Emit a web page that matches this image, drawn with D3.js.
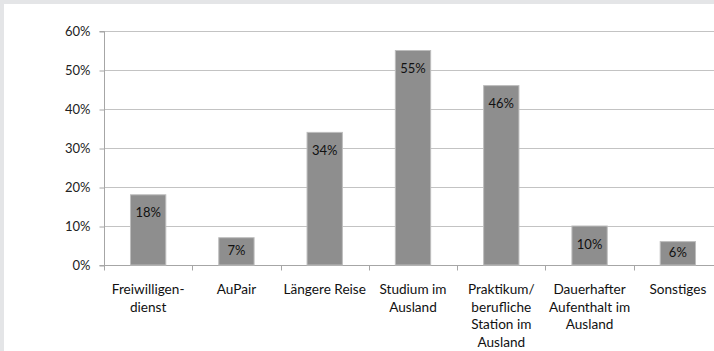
<!DOCTYPE html>
<html>
<head>
<meta charset="utf-8">
<script src="https://cdn.jsdelivr.net/npm/d3@7/dist/d3.min.js"></script>
<style>
html,body{margin:0;padding:0;background:#fff;}
svg{display:block;}
</style>
</head>
<body>
<svg id="chart" width="714" height="351"></svg>
<script>
const categories = [
  ["Freiwilligen-","dienst"],
  ["AuPair"],
  ["Längere Reise"],
  ["Studium im","Ausland"],
  ["Praktikum/","berufliche","Station im","Ausland"],
  ["Dauerhafter","Aufenthalt im","Ausland"],
  ["Sonstiges"]
];
const values = [0.18, 0.07, 0.34, 0.55, 0.46, 0.10, 0.06];
const valueLabels = ["18%","7%","34%","55%","46%","10%","6%"];
const yTicks = [0, 0.1, 0.2, 0.3, 0.4, 0.5, 0.6];

(function(){
const svg = d3.select("#chart");
const W = 714, H = 351;
const font = "Lato, 'Open Sans', sans-serif";

// frame
svg.append("rect").attr("x",0).attr("y",0).attr("width",W).attr("height",H).attr("fill","#e4e5e7");
svg.append("rect").attr("x",4).attr("y",4).attr("width",W-4).attr("height",H-4).attr("fill","#ffffff");

const pL = 104, pT = 31, pB = 265, pR = 722;
const x = d3.scaleBand().domain(d3.range(categories.length)).range([pL, pR]).paddingInner(0.6).paddingOuter(0.3);
const xb = d3.scaleBand().domain(d3.range(categories.length)).range([pL, pR]);
const y = d3.scaleLinear().domain([0, 0.6]).range([pB, pT]);

// gridlines
svg.append("g").selectAll("line").data(yTicks.filter(d=>d>0)).join("line")
  .attr("x1", pL).attr("x2", pR)
  .attr("y1", d=>y(d)+0.5).attr("y2", d=>y(d)+0.5)
  .attr("stroke", "#c3c3c3").attr("stroke-width", 1);

// y axis
const yAxis = d3.axisLeft(y).tickValues(yTicks).tickFormat(d3.format(".0%")).tickSize(5).tickPadding(9);
const gy = svg.append("g").attr("transform", `translate(${pL+0.5},0)`).call(yAxis);
gy.select(".domain").attr("stroke", "#a6a6a6").attr("d", `M-5,${pT+0.5}H0V${pB+0.5}H-5`);
gy.selectAll(".tick line").attr("stroke", "#a6a6a6").attr("transform","translate(0,0.5)");
gy.selectAll(".tick text").attr("font-family", font).attr("font-size", 13).attr("fill", "#222");

// x axis
const gx = svg.append("g").attr("transform", `translate(0,${pB+0.5})`);
gx.append("line").attr("x1", pL).attr("x2", pR).attr("stroke", "#a6a6a6");
gx.selectAll("line.t").data(d3.range(categories.length+1)).join("line").attr("class","t")
  .attr("x1", i => Math.round(pL + i*xb.step())+0.5).attr("x2", i => Math.round(pL + i*xb.step())+0.5)
  .attr("y1", 0).attr("y2", 5).attr("stroke", "#a6a6a6");

// bars
svg.append("g").selectAll("rect").data(values).join("rect")
  .attr("x", (d,i)=>x(i)).attr("width", x.bandwidth())
  .attr("y", d=>y(d)).attr("height", d=>y(0)-y(d))
  .attr("fill", "#8e8e8e").attr("stroke", "#bdbdbd").attr("stroke-width", 1);

// value labels
svg.append("g").selectAll("text").data(values).join("text")
  .attr("x", (d,i)=>x(i)+x.bandwidth()/2)
  .attr("y", d=>Math.min(y(d)+18, (y(d)+y(0))/2 - 1) + 4.5)
  .attr("text-anchor","middle").attr("font-family", font).attr("font-size", 13).attr("fill","#111")
  .text((d,i)=>valueLabels[i]);

// category labels
const cl = svg.append("g").selectAll("text").data(categories).join("text")
  .attr("x", (d,i)=>xb(i)+xb.bandwidth()/2).attr("y", 294)
  .attr("text-anchor","middle").attr("font-family", font).attr("font-size", 13.6).attr("fill","#111");
cl.selectAll("tspan").data(d=>d).join("tspan")
  .attr("x", function(){ return d3.select(this.parentNode).attr("x"); })
  .attr("dy", (d,j)=> j===0 ? 0 : 17.5)
  .text(d=>d);
})();
</script>
</body>
</html>
